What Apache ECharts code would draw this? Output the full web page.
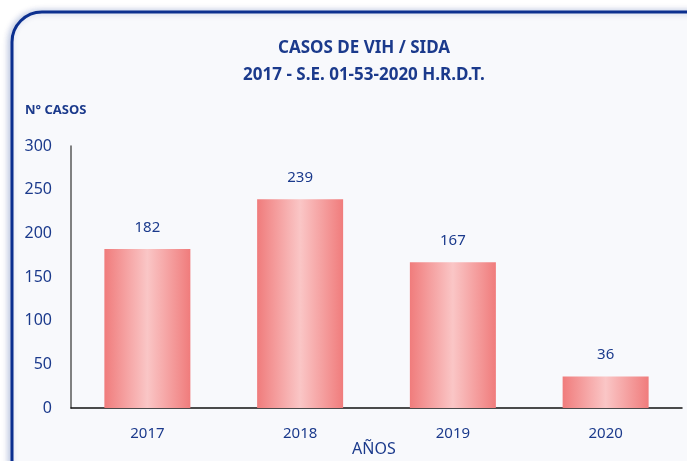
<!DOCTYPE html>
<html>
<head>
<meta charset="utf-8">
<script src="https://cdn.jsdelivr.net/npm/echarts@6/dist/echarts.min.js"></script>
<style>
  html, body { margin: 0; padding: 0; background: #ffffff; }
  #chart { width: 687px; height: 461px; }
</style>
</head>
<body>
<div id="chart"></div>
<script>
const years = ['2017', '2018', '2019', '2020'];
const cases = [182, 239, 167, 36];
const yTicks = { min: 0, max: 300, step: 50 };

const navy = '#1b3a8c';
const font = '"Noto Sans", "Open Sans", sans-serif';

const chart = echarts.init(document.getElementById('chart'), null, { renderer: 'canvas' });

chart.setOption({
  animation: false,
  backgroundColor: '#ffffff',
  graphic: [
    {
      type: 'rect',
      z: -10,
      silent: true,
      shape: { x: 12, y: 12, width: 710, height: 480, r: 30 },
      style: {
        fill: '#f8f9fc',
        stroke: '#0b2f8f',
        lineWidth: 3,
        shadowBlur: 6,
        shadowColor: 'rgba(11,47,143,0.25)',
        shadowOffsetX: -2
      }
    },
    {
      type: 'text',
      left: 25, top: 104,
      style: { text: 'N° CASOS', fill: navy, font: 'bold 13px ' + font }
    },
    {
      type: 'text',
      left: 352, top: 441,
      style: { text: 'AÑOS', fill: navy, font: '16px ' + font }
    }
  ],
  title: {
    text: 'CASOS DE VIH / SIDA\n2017 - S.E. 01-53-2020 H.R.D.T.',
    left: 359,
    textAlign: 'center',
    top: 30,
    textStyle: { color: navy, fontSize: 17, fontWeight: 'bold', fontFamily: font, lineHeight: 27 }
  },
  grid: { left: 71, right: 5, top: 146, bottom: 53 },
  xAxis: {
    type: 'category',
    data: years,
    axisLine: { lineStyle: { color: '#111111', width: 1.5 } },
    axisTick: { show: false },
    axisLabel: { color: navy, fontSize: 15, fontFamily: font, margin: 18 }
  },
  yAxis: {
    type: 'value',
    min: yTicks.min,
    max: yTicks.max,
    interval: yTicks.step,
    axisLine: { show: true, lineStyle: { color: '#595959', width: 1.5 } },
    axisTick: { show: false },
    splitLine: { show: false },
    axisLabel: { color: navy, fontSize: 16, fontFamily: font, margin: 19 }
  },
  series: [{
    type: 'bar',
    data: cases,
    barWidth: 86,
    itemStyle: {
      color: new echarts.graphic.LinearGradient(0, 0, 1, 0, [
        { offset: 0, color: '#f07c7c' },
        { offset: 0.5, color: '#fac6c6' },
        { offset: 1, color: '#f07c7c' }
      ])
    },
    label: {
      show: true,
      position: 'top',
      distance: 14,
      color: navy,
      fontSize: 15,
      fontFamily: font
    }
  }]
});
</script>
</body>
</html>
